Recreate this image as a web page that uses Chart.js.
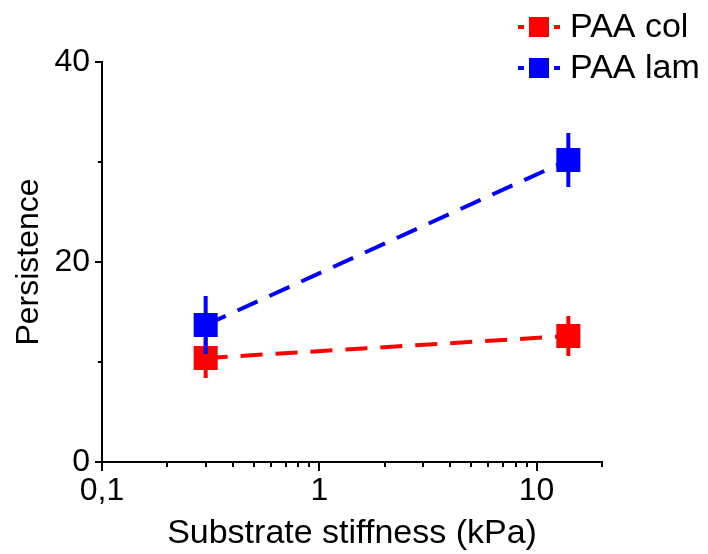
<!DOCTYPE html>
<html>
<head>
<meta charset="utf-8">
<script src="https://cdn.jsdelivr.net/npm/chart.js@4.4.1/dist/chart.umd.min.js"></script>
<style>
  html, body { margin: 0; padding: 0; background: #fff; }
  #wrap { position: relative; width: 708px; height: 554px; }
</style>
</head>
<body>
<div id="wrap"><canvas id="c" width="708" height="554"></canvas></div>
<script>
// ---- data ----
const seriesNames = ['PAA col', 'PAA lam'];
const seriesColors = ['#ff0000', '#0000ff'];
const stiffness = [0.3, 14];          // kPa
const colMeans = [10.4, 12.6];
const colErr = [2.0, 2.0];
const lamMeans = [13.7, 30.2];
const lamErr = [2.9, 2.7];
const xTickValues = [0.1, 1, 10];
const xTickLabels = ['0,1', '1', '10'];
const yTickValues = [0, 20, 40];
const yMinorValues = [10, 30];
const xTitle = 'Substrate stiffness (kPa)';
const yTitle = 'Persistence';

const FONT = "'Liberation Sans', Arial, sans-serif";

function pts(xs, ys) { return xs.map((x, i) => ({ x: x, y: ys[i] })); }

const errorBars = {
  id: 'errorBars',
  afterDatasetDraw(chart, args) {
    const ds = chart.data.datasets[args.index];
    if (!ds.errors) return;
    const ctx = chart.ctx, xs = chart.scales.x, ys = chart.scales.y;
    ctx.save();
    ctx.strokeStyle = ds.borderColor;
    ctx.lineWidth = 4;
    ds.data.forEach((p, i) => {
      const px = xs.getPixelForValue(p.x);
      ctx.beginPath();
      ctx.moveTo(px, ys.getPixelForValue(p.y - ds.errors[i]));
      ctx.lineTo(px, ys.getPixelForValue(p.y + ds.errors[i]));
      ctx.stroke();
    });
    ctx.restore();
  }
};

const tickMarks = {
  id: 'tickMarks',
  afterDraw(chart) {
    const ctx = chart.ctx, xs = chart.scales.x, ys = chart.scales.y;
    const area = chart.chartArea;
    ctx.save();
    ctx.strokeStyle = '#000';
    ctx.lineWidth = 2;
    yTickValues.forEach(v => {
      const py = Math.round(ys.getPixelForValue(v));
      ctx.beginPath(); ctx.moveTo(area.left - 7, py); ctx.lineTo(area.left, py); ctx.stroke();
    });
    yMinorValues.forEach(v => {
      const py = Math.round(ys.getPixelForValue(v));
      ctx.beginPath(); ctx.moveTo(area.left - 4, py); ctx.lineTo(area.left, py); ctx.stroke();
    });
    const minor = [];
    for (let d = 0.1; d < 20; d *= 10) {
      for (let k = 2; k <= 9; k++) { const v = +(k * d).toPrecision(3); if (v <= xs.max) minor.push(v); }
    }
    minor.forEach(v => {
      const px = Math.round(xs.getPixelForValue(v));
      ctx.beginPath(); ctx.moveTo(px, area.bottom); ctx.lineTo(px, area.bottom + 5); ctx.stroke();
    });
    xTickValues.forEach(v => {
      const px = Math.round(xs.getPixelForValue(v));
      ctx.beginPath(); ctx.moveTo(px, area.bottom); ctx.lineTo(px, area.bottom + 9); ctx.stroke();
    });
    ctx.restore();
  }
};

const customLegend = {
  id: 'customLegend',
  afterDraw(chart) {
    const ctx = chart.ctx;
    ctx.save();
    const rows = [27, 68];
    chart.data.datasets.slice().sort((a, b) => a.legendIndex - b.legendIndex).forEach((ds, i) => {
      const cy = rows[i];
      ctx.fillStyle = ds.borderColor;
      ctx.fillRect(518, cy - 2, 6, 4);
      ctx.fillRect(554, cy - 2, 6, 4);
      ctx.fillRect(529, cy - 10, 20, 20);
      ctx.fillStyle = '#000';
      ctx.font = '34px ' + FONT;
      ctx.textBaseline = 'middle';
      ctx.textAlign = 'left';
      ctx.fillText(ds.label, 570, cy + 1);
    });
    ctx.restore();
  }
};

new Chart(document.getElementById('c'), {
  type: 'line',
  data: {
    datasets: [
      {
        label: seriesNames[0], legendIndex: 0, order: 1,
        data: pts(stiffness, colMeans), errors: colErr,
        borderColor: seriesColors[0], backgroundColor: seriesColors[0],
        borderWidth: 4, borderDash: [22, 13],
        pointStyle: 'rect', pointRadius: 17, pointHoverRadius: 17, pointBorderWidth: 0
      },
      {
        label: seriesNames[1], legendIndex: 1, order: 0,
        data: pts(stiffness, lamMeans), errors: lamErr,
        borderColor: seriesColors[1], backgroundColor: seriesColors[1],
        borderWidth: 4, borderDash: [22, 13],
        pointStyle: 'rect', pointRadius: 17, pointHoverRadius: 17, pointBorderWidth: 0
      }
    ]
  },
  options: {
    responsive: false,
    animation: false,
    events: [],
    layout: { padding: { top: 62, right: 106, left: 0, bottom: 0 } },
    plugins: { legend: { display: false }, tooltip: { enabled: false } },
    scales: {
      x: {
        type: 'logarithmic',
        min: 0.1, max: 20,
        grid: { display: false, drawTicks: false },
        border: { display: true, color: '#000', width: 2 },
        afterBuildTicks: s => { s.ticks = xTickValues.map(v => ({ value: v })); },
        afterFit: s => { s.height = 92; },
        ticks: {
          autoSkip: false, maxRotation: 0, color: '#000', padding: 10,
          font: { family: FONT, size: 32 },
          callback: (v) => { const i = xTickValues.indexOf(v); return i >= 0 ? xTickLabels[i] : ''; }
        },
        title: { display: true, text: xTitle, color: '#000', font: { family: FONT, size: 34 }, padding: { top: 0, bottom: 0 } }
      },
      y: {
        type: 'linear',
        min: 0, max: 40,
        grid: { display: false, drawTicks: false },
        border: { display: true, color: '#000', width: 2 },
        afterBuildTicks: s => { s.ticks = yTickValues.map(v => ({ value: v })); },
        afterFit: s => { s.width = 102; },
        ticks: { color: '#000', padding: 12, font: { family: FONT, size: 32 } },
        title: { display: true, text: yTitle, color: '#000', font: { family: FONT, size: 32 }, padding: { top: 10, bottom: 0 } }
      }
    }
  },
  plugins: [errorBars, tickMarks, customLegend]
});
</script>
</body>
</html>
